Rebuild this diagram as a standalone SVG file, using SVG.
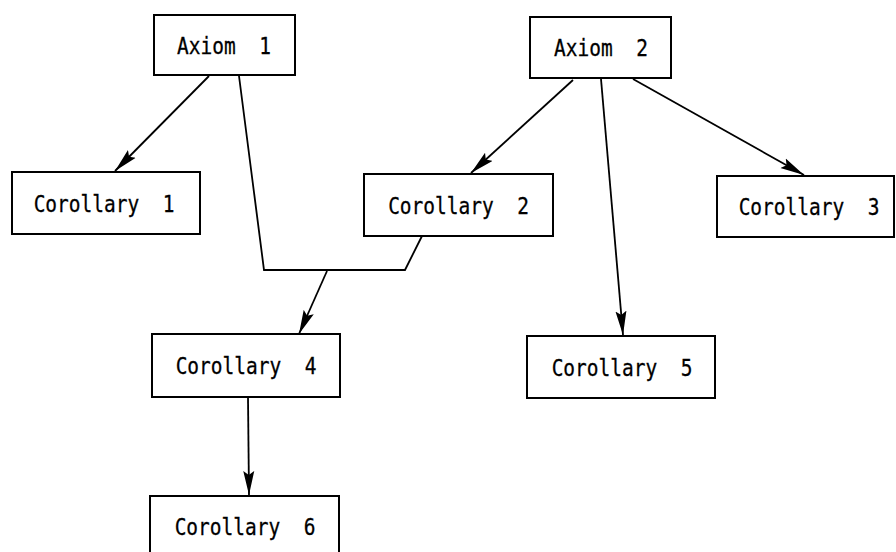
<svg xmlns="http://www.w3.org/2000/svg" width="896" height="552" viewBox="0 0 896 552">
  <defs>
    <marker id="arrow" markerUnits="userSpaceOnUse" markerWidth="26" markerHeight="12" refX="24" refY="6" orient="auto">
      <path d="M0,0.5 L24,6 L0,11.5 L4,6 z" fill="#000"/>
    </marker>
    <style>
      .box { fill: #fff; stroke: #000; stroke-width: 2; }
      .lbl { font-family: "DejaVu Sans Mono", "Liberation Mono", monospace; font-size: 19.5px; fill: #000; stroke: #000; stroke-width: 0.25; text-anchor: middle; white-space: pre; }
      .edge { fill: none; stroke: #000; stroke-width: 1.8; }
      .arr { marker-end: url(#arrow); }
    </style>
  </defs>
  <rect width="896" height="552" fill="#fff"/>

  <g id="connectors">
    <line class="edge arr" x1="209" y1="76" x2="115" y2="171"/>
    <polyline class="edge" points="239,76 264,270 405,270 422,236"/>
    <line class="edge arr" x1="327" y1="271" x2="299" y2="334"/>
    <line class="edge arr" x1="248" y1="398" x2="249" y2="495"/>
    <line class="edge arr" x1="573" y1="80" x2="471" y2="173"/>
    <line class="edge arr" x1="601" y1="79" x2="623" y2="335"/>
    <line class="edge arr" x1="633" y1="79" x2="804" y2="175"/>
  </g>

  <!-- labels are stretched vertically for the tall, narrow lettering -->
  <g id="axiom1">
    <rect class="box" x="154" y="15" width="141" height="60"/>
    <text class="lbl" transform="translate(224,53.5) scale(1,1.2)">Axiom  1</text>
  </g>
  <g id="axiom2">
    <rect class="box" x="530" y="17" width="141" height="61"/>
    <text class="lbl" transform="translate(601,56) scale(1,1.2)">Axiom  2</text>
  </g>
  <g id="corollary1">
    <rect class="box" x="12" y="172" width="188" height="62"/>
    <text class="lbl" transform="translate(104,212) scale(1,1.2)">Corollary  1</text>
  </g>
  <g id="corollary2">
    <rect class="box" x="364" y="174" width="189" height="62"/>
    <text class="lbl" transform="translate(458.5,213.5) scale(1,1.2)">Corollary  2</text>
  </g>
  <g id="corollary3">
    <rect class="box" x="717" y="176" width="177" height="61"/>
    <text class="lbl" transform="translate(809,215) scale(1,1.2)">Corollary  3</text>
  </g>
  <g id="corollary4">
    <rect class="box" x="152" y="334" width="188" height="63"/>
    <text class="lbl" transform="translate(246,374) scale(1,1.2)">Corollary  4</text>
  </g>
  <g id="corollary5">
    <rect class="box" x="527" y="336" width="188" height="62"/>
    <text class="lbl" transform="translate(622,376) scale(1,1.2)">Corollary  5</text>
  </g>
  <g id="corollary6">
    <rect class="box" x="150" y="496" width="189" height="64"/>
    <text class="lbl" transform="translate(245,535) scale(1,1.2)">Corollary  6</text>
  </g>
</svg>
